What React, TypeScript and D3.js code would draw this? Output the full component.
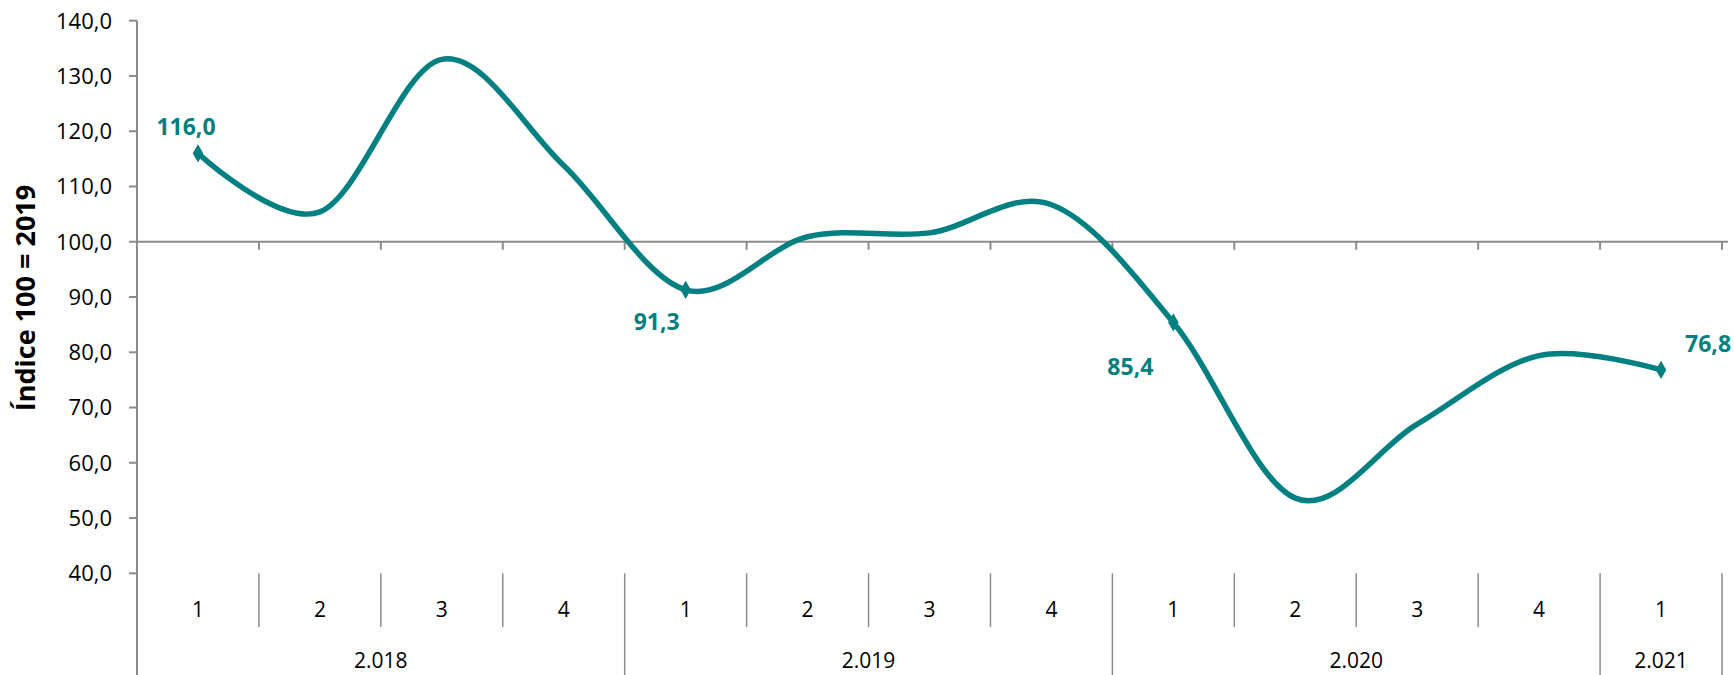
import React from 'react';
import * as d3 from 'd3';

// quarterly index, 2018 Q1 .. 2021 Q1
const quarters = ['1', '2', '3', '4', '1', '2', '3', '4', '1', '2', '3', '4', '1'];
const years = ['2.018', '2.019', '2.020', '2.021'];
const quartersPerYear = [4, 4, 4, 1];
const values = [116.0, 105.4, 133.0, 113.8, 91.3, 100.9, 101.6, 106.7, 85.4, 53.6, 67.0, 79.4, 76.8];
const labelled = [0, 4, 8, 12];
const yTicks = [40, 50, 60, 70, 80, 90, 100, 110, 120, 130, 140];
const yTitle = 'Índice 100 = 2019';

const W = 1734;
const H = 675;
const left = 137;
const right = 1722;
const top = 20.7;
const bottom = 573.3;

const TEAL = '#008080';
const GREY = '#8c8c8c';
const FONT = "'Open Sans', sans-serif";

const locale = d3.formatLocale({ decimal: ',', thousands: '.', grouping: [3], currency: ['', ''] });
const fmt = locale.format('.1f');

// where each data label sits relative to its marker
const labelOffset: Record<number, [number, number]> = {
  0: [-12, -27],
  4: [-29, 32],
  8: [-43, 44],
  12: [47, -26],
};

export default function App() {
  const x = d3.scaleBand<number>().domain(d3.range(quarters.length)).range([left, right]).padding(0);
  const bw = x.bandwidth();
  const cx = (i: number) => (x(i) as number) + bw / 2;
  const y = d3.scaleLinear().domain([40, 140]).range([bottom, top]);

  const line = d3
    .line<number>()
    .x((_, i) => cx(i))
    .y((d) => y(d))
    .curve(d3.curveCardinal.tension(0));

  const diamond = d3.symbol().type(d3.symbolDiamond).size(95)();

  // year groups
  let start = 0;
  const groups = years.map((yr, k) => {
    const g = { yr, from: start, to: start + quartersPerYear[k] };
    start += quartersPerYear[k];
    return g;
  });
  const edges = d3.range(quarters.length + 1).map((k) => left + k * bw);
  const yearEdges = new Set([0, ...groups.map((g) => g.to)]);

  return (
    <svg width={W} height={H} style={{ position: 'absolute', left: 0, top: 0, background: '#fff' }}>
      {/* y axis */}
      <line x1={left} x2={left} y1={top} y2={H} stroke={GREY} strokeWidth={2} />
      {yTicks.map((t) => (
        <g key={t}>
          <line x1={left - 8} x2={left} y1={y(t)} y2={y(t)} stroke={GREY} strokeWidth={2} />
          <text x={112} y={y(t)} dy="0.36em" textAnchor="end" fontFamily={FONT} fontSize={22} fill="#000">
            {fmt(t)}
          </text>
        </g>
      ))}
      <text
        transform={`translate(35,298) rotate(-90)`}
        textAnchor="middle"
        fontFamily={FONT}
        fontWeight="bold"
        fontSize={27}
        fill="#000"
      >
        {yTitle}
      </text>

      {/* baseline at 100 with category ticks */}
      <line x1={left} x2={right + 6} y1={y(100)} y2={y(100)} stroke={GREY} strokeWidth={2} />
      {edges.slice(1).map((ex, k) => (
        <line key={k} x1={ex} x2={ex} y1={y(100)} y2={y(100) + 8} stroke={GREY} strokeWidth={2} />
      ))}

      {/* category axis below the plot */}
      {edges.map((ex, k) =>
        k === 0 ? null : (
          <line
            key={k}
            x1={ex}
            x2={ex}
            y1={bottom}
            y2={yearEdges.has(k) ? H : 627}
            stroke={GREY}
            strokeWidth={1.5}
          />
        )
      )}
      {quarters.map((q, i) => (
        <text key={i} x={cx(i)} y={609} dy="0.36em" textAnchor="middle" fontFamily={FONT} fontSize={21} fill="#000">
          {q}
        </text>
      ))}
      {groups.map((g) => (
        <text
          key={g.yr}
          x={left + ((g.from + g.to) / 2) * bw}
          y={660}
          dy="0.36em"
          textAnchor="middle"
          fontFamily={FONT}
          fontSize={21}
          fill="#000"
        >
          {g.yr}
        </text>
      ))}

      {/* series */}
      <path d={line(values) ?? ''} fill="none" stroke={TEAL} strokeWidth={5.5} strokeLinejoin="round" />
      {labelled.map((i) => (
        <g key={i}>
          <path d={diamond ?? ''} transform={`translate(${cx(i)},${y(values[i])})`} fill={TEAL} />
          <text
            x={cx(i) + labelOffset[i][0]}
            y={y(values[i]) + labelOffset[i][1]}
            dy="0.36em"
            textAnchor="middle"
            fontFamily={FONT}
            fontWeight="bold"
            fontSize={23}
            fill={TEAL}
          >
            {fmt(values[i])}
          </text>
        </g>
      ))}
    </svg>
  );
}
